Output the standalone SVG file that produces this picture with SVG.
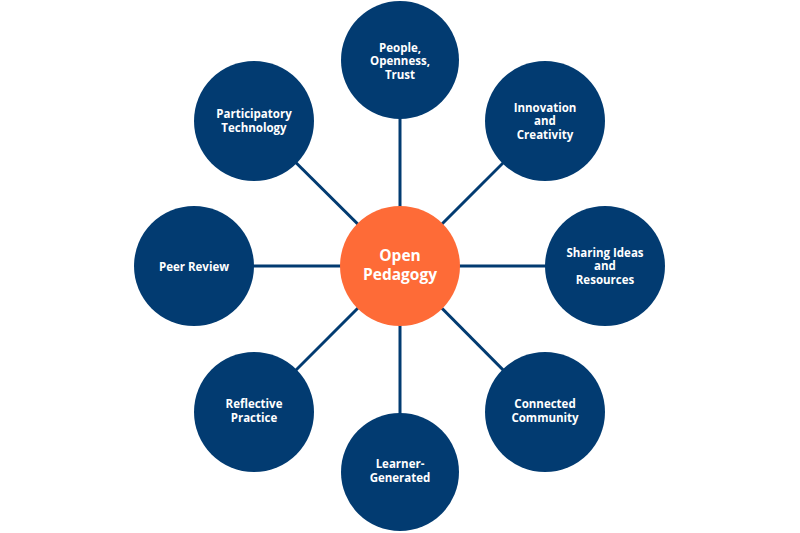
<svg xmlns="http://www.w3.org/2000/svg" width="800" height="533" viewBox="0 0 800 533">
<style>
.n{fill:#023b71}
.c{fill:#fe6b37}
.t{font-family:"Open Sans","Liberation Sans",sans-serif;font-weight:700;font-size:11.5px;fill:#ffffff;text-anchor:middle}
.tc{font-family:"Open Sans","Liberation Sans",sans-serif;font-weight:700;font-size:15.5px;fill:#ffffff;text-anchor:middle}
.l{stroke:#023b71;stroke-width:3;fill:none}
</style>
<rect width="800" height="533" fill="#ffffff"/>
<g id="connectors">
<line class="l" x1="400" y1="266" x2="400" y2="60"/>
<line class="l" x1="400" y1="266" x2="545" y2="121"/>
<line class="l" x1="400" y1="266" x2="605" y2="266"/>
<line class="l" x1="400" y1="266" x2="545" y2="412"/>
<line class="l" x1="400" y1="266" x2="400" y2="472"/>
<line class="l" x1="400" y1="266" x2="254" y2="412"/>
<line class="l" x1="400" y1="266" x2="194" y2="266"/>
<line class="l" x1="400" y1="266" x2="254" y2="121"/>
</g>
<g id="center">
<circle class="c" cx="400" cy="266" r="60"/>
<text class="tc" x="400" y="261">Open</text>
<text class="tc" x="400" y="280">Pedagogy</text>
</g>
<g id="people">
<circle class="n" cx="400" cy="60" r="59"/>
<text class="t" x="400" y="51.5">People,</text>
<text class="t" x="400" y="65">Openness,</text>
<text class="t" x="400" y="78.5">Trust</text>
</g>
<g id="innovation">
<circle class="n" cx="545" cy="121" r="60"/>
<text class="t" x="545" y="111.5">Innovation</text>
<text class="t" x="545" y="125">and</text>
<text class="t" x="545" y="138.5">Creativity</text>
</g>
<g id="sharing">
<circle class="n" cx="605" cy="266" r="60"/>
<text class="t" x="605" y="256.5">Sharing Ideas</text>
<text class="t" x="605" y="270">and</text>
<text class="t" x="605" y="283.5">Resources</text>
</g>
<g id="connected">
<circle class="n" cx="545" cy="412" r="60"/>
<text class="t" x="545" y="408">Connected</text>
<text class="t" x="545" y="422">Community</text>
</g>
<g id="learner">
<circle class="n" cx="400" cy="472" r="59"/>
<text class="t" x="400" y="467.5">Learner-</text>
<text class="t" x="400" y="481.5">Generated</text>
</g>
<g id="reflective">
<circle class="n" cx="254" cy="412" r="60"/>
<text class="t" x="254" y="408">Reflective</text>
<text class="t" x="254" y="422">Practice</text>
</g>
<g id="peer">
<circle class="n" cx="194" cy="266" r="60"/>
<text class="t" x="194" y="271">Peer Review</text>
</g>
<g id="participatory">
<circle class="n" cx="254" cy="121" r="60"/>
<text class="t" x="254" y="117.5">Participatory</text>
<text class="t" x="254" y="131.5">Technology</text>
</g>
</svg>
